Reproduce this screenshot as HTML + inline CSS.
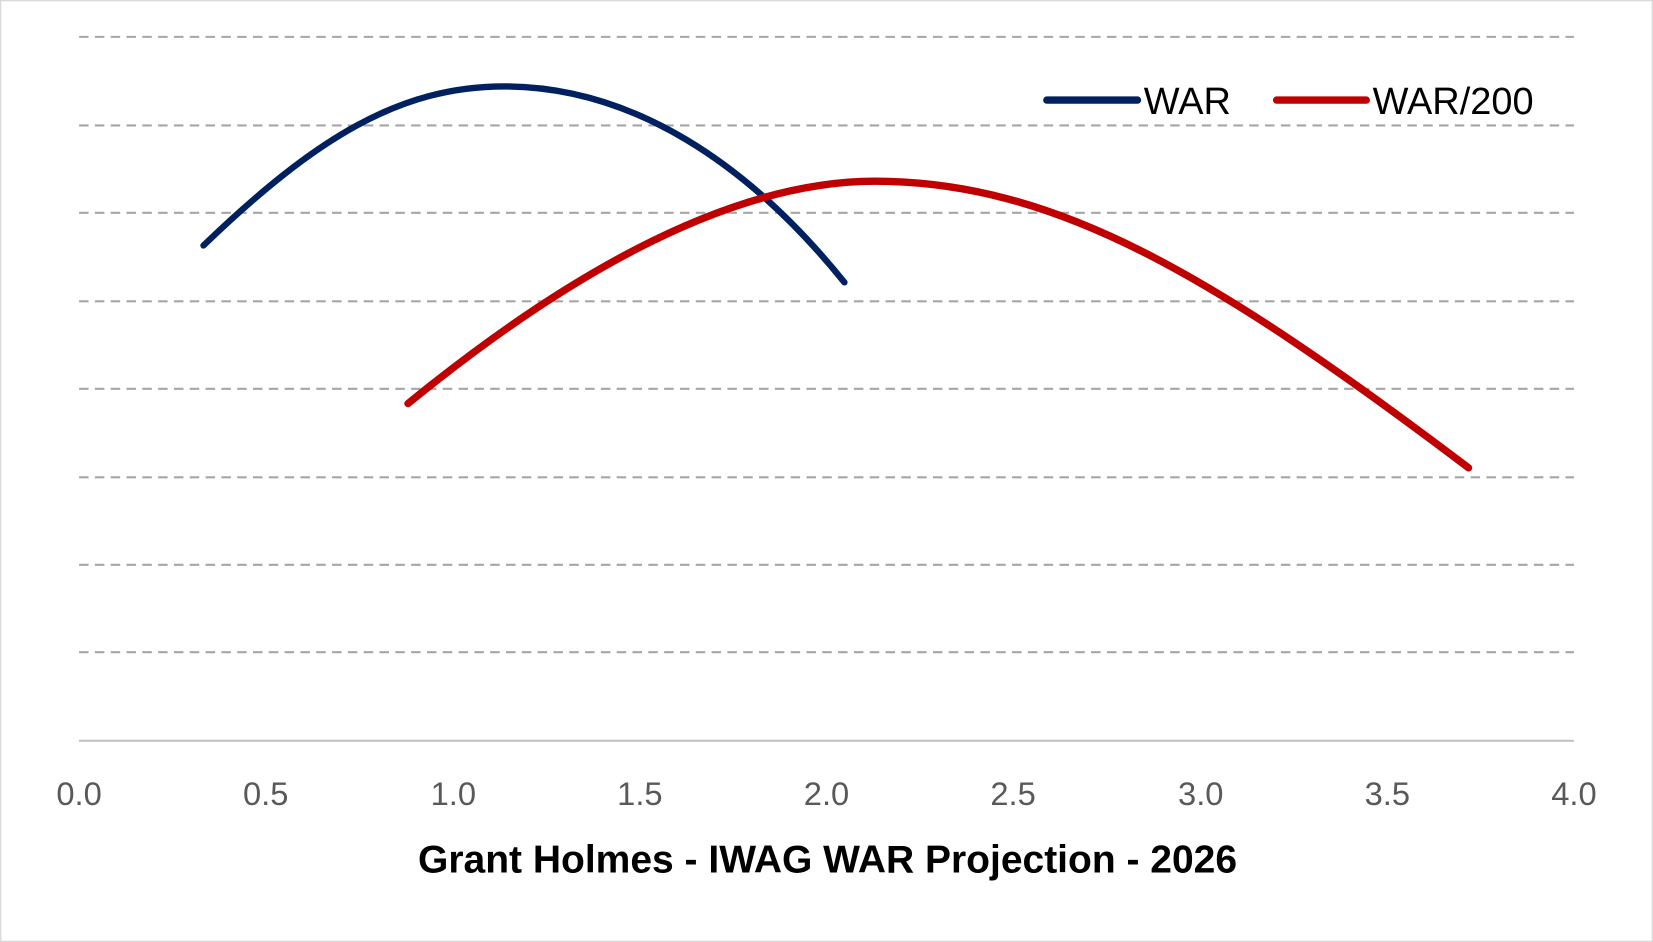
<!DOCTYPE html>
<html><head><meta charset="utf-8"><style>
html,body{margin:0;padding:0;background:#fff;}
svg{display:block;}
</style></head><body>
<svg width="1653" height="942" viewBox="0 0 1568 894" preserveAspectRatio="none" xmlns="http://www.w3.org/2000/svg">
<rect x="0.5" y="0.5" width="1567" height="893" fill="#fff" stroke="#d9d9d9" stroke-width="1.5"/>
<g stroke="#a6a6a6" stroke-width="2" stroke-dasharray="9,6">
<line x1="75" y1="35" x2="1493" y2="35"/>
<line x1="75" y1="119" x2="1493" y2="119"/>
<line x1="75" y1="202" x2="1493" y2="202"/>
<line x1="75" y1="286" x2="1493" y2="286"/>
<line x1="75" y1="369" x2="1493" y2="369"/>
<line x1="75" y1="453" x2="1493" y2="453"/>
<line x1="75" y1="536" x2="1493" y2="536"/>
<line x1="75" y1="619" x2="1493" y2="619"/>
</g>
<line x1="75" y1="703" x2="1493" y2="703" stroke="#bfbfbf" stroke-width="2"/>
<g font-family="Liberation Sans, sans-serif" font-size="31" fill="#595959" text-anchor="middle">
<text x="75" y="764">0.0</text><text x="252" y="764">0.5</text><text x="430" y="764">1.0</text>
<text x="607" y="764">1.5</text><text x="784" y="764">2.0</text><text x="961" y="764">2.5</text>
<text x="1139" y="764">3.0</text><text x="1316" y="764">3.5</text><text x="1493" y="764">4.0</text>
</g>
<path d="M193,233 C300,130 380,82 478,82 C600,82 710,155 801,268" fill="none" stroke="#002060" stroke-width="6" stroke-linecap="round"/>
<path d="M387,383 C550,250 700,172 830,172 C1000,172 1150,260 1393,444" fill="none" stroke="#c00000" stroke-width="7" stroke-linecap="round"/>
<line x1="993" y1="95" x2="1079" y2="95" stroke="#002060" stroke-width="7" stroke-linecap="round"/>
<line x1="1211" y1="95" x2="1296" y2="95" stroke="#c00000" stroke-width="7" stroke-linecap="round"/>
<g font-family="Liberation Sans, sans-serif" font-size="36" fill="#000">
<text x="1085" y="108">WAR</text><text x="1302" y="108">WAR/200</text>
</g>
<text x="785" y="828" font-family="Liberation Sans, sans-serif" font-size="37" font-weight="bold" text-anchor="middle" fill="#000">Grant Holmes - IWAG WAR Projection - 2026</text>
</svg>
</body></html>
